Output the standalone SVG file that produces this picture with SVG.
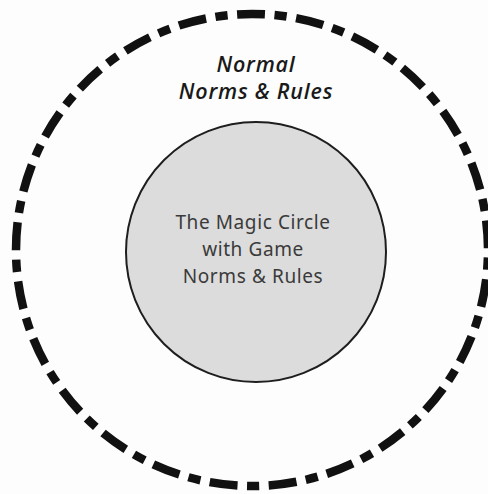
<svg xmlns="http://www.w3.org/2000/svg" width="488" height="494" viewBox="0 0 488 494">
<style>
.outer{fill:none;stroke:#111;stroke-width:8.5;stroke-dasharray:28 9.5 12.3 9.5;stroke-dashoffset:30}
.inner{fill:#dcdcdc;stroke:#1e1e1e;stroke-width:2}
.t1{font-family:"Open Sans",Lato,sans-serif;font-style:italic;font-weight:600;font-size:21.5px;letter-spacing:0.8px;fill:#1a1a1a;text-anchor:middle}
.t2{font-family:"Noto Sans","Open Sans",sans-serif;font-weight:400;font-size:19px;letter-spacing:0.6px;fill:#3a3a3a;text-anchor:middle}
</style>
<rect width="488" height="494" fill="#fdfdfd"/>
<g id="outer-circle">
<circle class="outer" cx="252" cy="250" r="236"/>
<text class="t1" x="256" y="72">Normal</text>
<text class="t1" x="256" y="99">Norms &amp; Rules</text>
</g>
<g id="magic-circle">
<circle class="inner" cx="256" cy="252" r="130"/>
<text class="t2" x="253" y="229">The Magic Circle</text>
<text class="t2" x="253" y="256">with Game</text>
<text class="t2" x="253" y="283">Norms &amp; Rules</text>
</g>
<g id="connectors"></g>
</svg>
